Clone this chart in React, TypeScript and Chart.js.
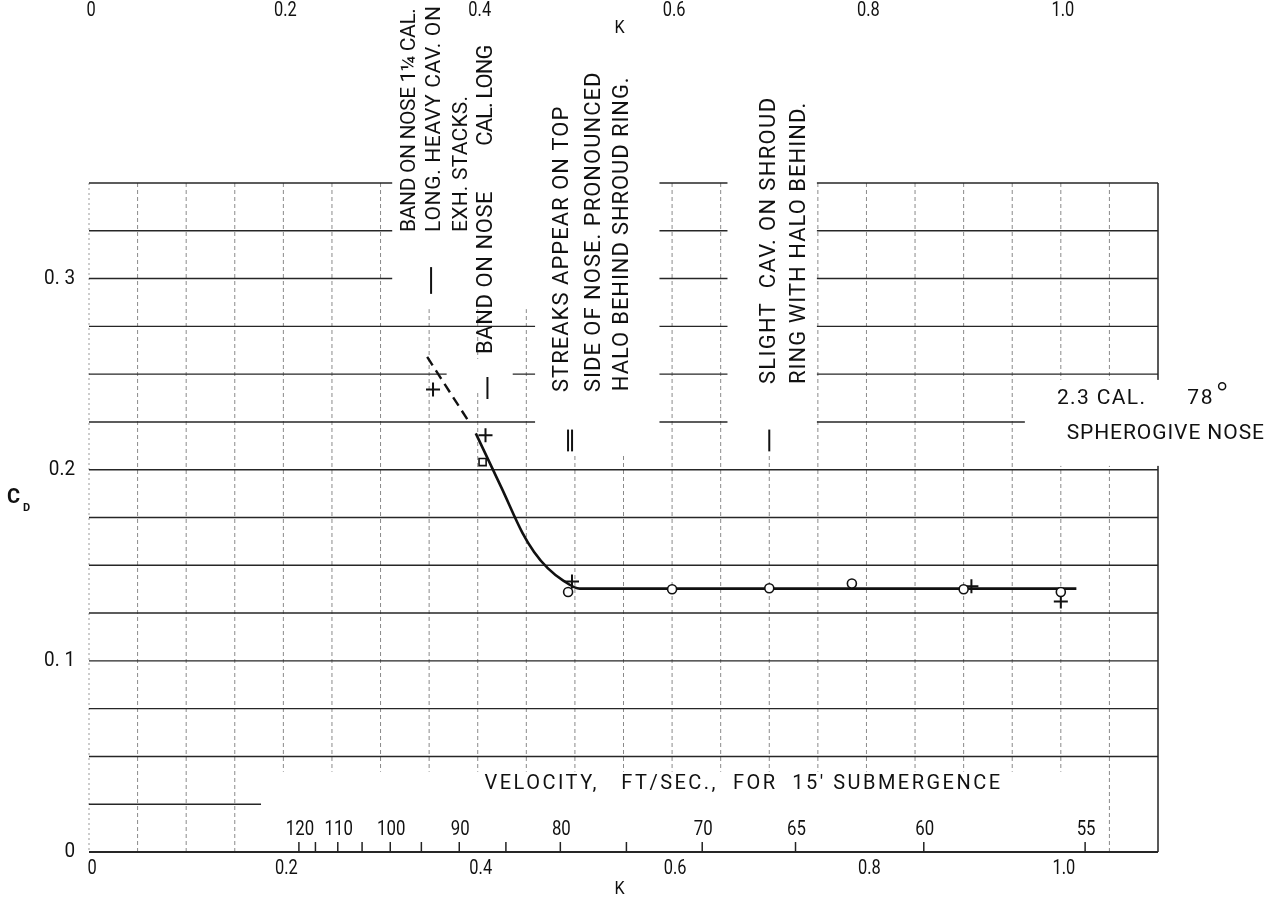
import React, { useEffect, useRef } from 'react';
import { Chart, registerables } from 'chart.js';

Chart.register(...registerables);

// ---------- axis ranges and ticks ----------
const kRange = [0, 1.1];
const cdRange = [0, 0.35];
const kTickValues = [0, 0.2, 0.4, 0.6, 0.8, 1.0];
const kTickLabels = ['0', '0.2', '0.4', '0.6', '0.8', '1.0'];
const cdTickValues = [0, 0.1, 0.2, 0.3];
const cdTickLabels = ['0', '0. 1', '0.2', '0. 3'];

// secondary velocity scale (ft/sec for 15' submergence) placed at K positions
const velocityValues = [120, 115, 110, 105, 100, 95, 90, 85, 80, 75, 70, 65, 60, 55];
const velocityK = [0.216, 0.233, 0.256, 0.281, 0.31, 0.342, 0.381, 0.429, 0.485, 0.553, 0.631, 0.727, 0.859, 1.025];
const velocityLabels = ['120', '', '110', '', '100', '', '90', '', '80', '', '70', '65', '60', '55'];

// ---------- data ----------
const circleK = [0.493, 0.6, 0.7, 0.785, 0.9, 1.0];
const circleCd = [0.136, 0.1375, 0.138, 0.1405, 0.1375, 0.136];
const crossK = [0.354, 0.408, 0.497, 0.908, 1.0];
const crossCd = [0.242, 0.218, 0.1415, 0.139, 0.131];
const squareK = [0.405];
const squareCd = [0.204];

const curveK = [0.398, 0.425, 0.446, 0.458, 0.472, 0.488, 0.505, 0.6, 0.8, 1.016];
const curveCd = [0.219, 0.19, 0.167, 0.157, 0.1485, 0.142, 0.1378, 0.1378, 0.1378, 0.1378];
const dashK = [0.348, 0.391];
const dashCd = [0.259, 0.225];

// observation markers (short bars under the notes)
const markK = [0.352, 0.41, 0.495, 0.7];
const markCdLow = [0.292, 0.237, 0.2096, 0.2096];
const markCdHigh = [0.306, 0.2485, 0.221, 0.221];
const markDouble = [false, false, true, false];

// vertical notes: text, K of column, Cd at bottom and top of the text
const noteTexts = [
  'BAND ON NOSE 1¼ CAL.',
  'LONG. HEAVY CAV. ON',
  'EXH. STACKS.',
  'BAND ON NOSE',
  'CAL. LONG',
  'STREAKS APPEAR ON TOP',
  'SIDE OF NOSE. PRONOUNCED',
  'HALO BEHIND SHROUD RING.',
  'SLIGHT  CAV. ON SHROUD',
  'RING WITH HALO BEHIND.',
];
const noteK = [0.33, 0.356, 0.384, 0.4095, 0.4095, 0.4877, 0.5206, 0.5494, 0.7006, 0.7315];
const noteCdBottom = [0.3244, 0.3244, 0.3244, 0.2605, 0.3695, 0.2406, 0.2406, 0.2411, 0.2448, 0.2448];
const noteCdTop = [0.4413, 0.4429, 0.3957, 0.3459, 0.4219, 0.3905, 0.4083, 0.4057, 0.3952, 0.3925];
const noteSize = [21, 21, 21, 22, 22, 22, 22, 22, 22, 22];

// regions of the sheet left without grid (K0, K1, Cd0, Cd1)
const blankK0 = [0.312, 0.368, 0.459, 0.657, 0.963];
const blankK1 = [0.464, 0.436, 0.587, 0.749, 1.3];
const blankCd0 = [0.284, 0.241, 0.208, 0.208, 0.202];
const blankCd1 = [0.6, 0.258, 0.6, 0.6, 0.247];

const FONT = 'Roboto, "DejaVu Sans", sans-serif';

function fitText(ctx: CanvasRenderingContext2D, text: string, x0: number, x1: number, y: number, size: number) {
  ctx.save();
  ctx.font = `${size}px ${FONT}`;
  ctx.textAlign = 'left';
  ctx.textBaseline = 'middle';
  const target = x1 - x0;
  const anyCtx = ctx as any;
  const n = Array.from(text).length;
  const w = ctx.measureText(text).width;
  if ('letterSpacing' in anyCtx && n > 1) {
    anyCtx.letterSpacing = `${(target - w) / n}px`;
  }
  const w2 = ctx.measureText(text).width;
  ctx.translate(x0, y);
  if (Math.abs(w2 - target) > 2 && w2 > 0) ctx.scale(target / w2, 1);
  ctx.fillText(text, 0, 0);
  ctx.restore();
}

function numText(ctx: CanvasRenderingContext2D, text: string, x: number, y: number, size: number, align: CanvasTextAlign, squeeze: number) {
  ctx.save();
  ctx.font = `${size}px ${FONT}`;
  ctx.textAlign = align;
  ctx.textBaseline = 'middle';
  ctx.translate(x, y);
  ctx.scale(squeeze, 1);
  ctx.fillText(text, 0, 0);
  ctx.restore();
}

const paperPlugin = {
  id: 'paper',
  beforeDraw(chart: any) {
    const { ctx, width, height } = chart;
    ctx.save();
    ctx.fillStyle = '#ffffff';
    ctx.fillRect(0, 0, width, height);
    ctx.restore();
  },
  beforeDatasetsDraw(chart: any) {
    const { ctx } = chart;
    const xs = chart.scales.x;
    const ys = chart.scales.y;
    const px = (k: number) => xs.getPixelForValue(k);
    const py = (c: number) => ys.getPixelForValue(c);
    ctx.save();
    // vertical grid lines every 0.05 K
    const nV = Math.round((kRange[1] - kRange[0]) / 0.05);
    for (let i = 0; i <= nV; i++) {
      const k = i * 0.05;
      const deep = i <= 3 || i >= nV - 1;
      const bottom = deep ? 0 : 0.042;
      ctx.beginPath();
      if (i === nV) {
        ctx.setLineDash([]);
        ctx.strokeStyle = '#222';
        ctx.lineWidth = 1.5;
      } else if (i === 0) {
        ctx.setLineDash([2, 3]);
        ctx.strokeStyle = '#999';
        ctx.lineWidth = 1;
      } else {
        ctx.setLineDash([4, 3]);
        ctx.strokeStyle = '#8a8a8a';
        ctx.lineWidth = 1;
      }
      ctx.moveTo(px(k), py(cdRange[1]));
      ctx.lineTo(px(k), py(bottom));
      ctx.stroke();
    }
    // horizontal grid lines every 0.025 Cd
    const nH = Math.round((cdRange[1] - cdRange[0]) / 0.025);
    ctx.setLineDash([]);
    for (let j = 0; j <= nH; j++) {
      const c = j * 0.025;
      const k1 = j === 1 ? 0.177 : kRange[1];
      ctx.beginPath();
      ctx.strokeStyle = '#262626';
      ctx.lineWidth = j === 0 ? 1.8 : 1.4;
      ctx.moveTo(px(0), py(c));
      ctx.lineTo(px(k1), py(c));
      ctx.stroke();
    }
    // blank regions kept for the hand-lettered notes
    ctx.fillStyle = '#ffffff';
    for (let b = 0; b < blankK0.length; b++) {
      const x0 = px(blankK0[b]);
      const x1 = px(blankK1[b]);
      const y0 = py(blankCd1[b]);
      const y1 = py(blankCd0[b]);
      ctx.fillRect(x0, y0, x1 - x0, y1 - y0);
    }
    // velocity ticks on the base line
    ctx.strokeStyle = '#222';
    ctx.lineWidth = 1.5;
    for (let v = 0; v < velocityK.length; v++) {
      ctx.beginPath();
      ctx.moveTo(px(velocityK[v]), py(0));
      ctx.lineTo(px(velocityK[v]), py(0) - 10);
      ctx.stroke();
    }
    // observation markers
    ctx.lineWidth = 2;
    ctx.strokeStyle = '#111';
    for (let m = 0; m < markK.length; m++) {
      const offs = markDouble[m] ? [-2, 2] : [0];
      for (const o of offs) {
        ctx.beginPath();
        ctx.moveTo(px(markK[m]) + o, py(markCdLow[m]));
        ctx.lineTo(px(markK[m]) + o, py(markCdHigh[m]));
        ctx.stroke();
      }
    }
    ctx.restore();
  },
  afterDraw(chart: any) {
    const { ctx } = chart;
    const xs = chart.scales.x;
    const ys = chart.scales.y;
    const px = (k: number) => xs.getPixelForValue(k);
    const py = (c: number) => ys.getPixelForValue(c);
    ctx.save();
    ctx.fillStyle = '#111';
    // bottom K axis
    for (let i = 0; i < kTickValues.length; i++) {
      numText(ctx, kTickLabels[i], px(kTickValues[i]) + 3, py(0) + 17, 20, 'center', 0.82);
      // duplicate scale at the top of the sheet
      numText(ctx, kTickLabels[i], px(kTickValues[i]) + 2, 11, 20, 'center', 0.82);
    }
    numText(ctx, 'K', px(0.546), py(0) + 37, 18, 'center', 0.9);
    numText(ctx, 'K', px(0.546), 28, 18, 'center', 0.9);
    // Cd axis labels
    for (let i = 0; i < cdTickValues.length; i++) {
      numText(ctx, cdTickLabels[i], px(0) - 14, py(cdTickValues[i]), 21, 'right', 0.9);
    }
    // C_D title
    ctx.font = `bold 20px ${FONT}`;
    ctx.textAlign = 'left';
    ctx.textBaseline = 'middle';
    ctx.fillText('C', 7, py(0.185));
    ctx.font = `bold 11px ${FONT}`;
    ctx.fillText('D', 23, py(0.185) + 10);
    // velocity labels
    for (let v = 0; v < velocityK.length; v++) {
      if (velocityLabels[v]) numText(ctx, velocityLabels[v], px(velocityK[v]) + 1, py(0.0115), 21, 'center', 0.8);
    }
    fitText(ctx, "VELOCITY,   FT/SEC.,  FOR  15' SUBMERGENCE", px(0.407), px(0.94), py(0.0357), 20);
    // vertical notes
    for (let n = 0; n < noteTexts.length; n++) {
      const x = px(noteK[n]);
      const yb = py(noteCdBottom[n]);
      const yt = py(noteCdTop[n]);
      ctx.save();
      ctx.translate(x, yb);
      ctx.rotate(-Math.PI / 2);
      fitText(ctx, noteTexts[n], 0, yb - yt, 0, noteSize[n]);
      ctx.restore();
    }
    // model description
    fitText(ctx, '2.3 CAL.', px(0.996), px(1.088), py(0.2369), 21);
    fitText(ctx, '78', px(1.13), px(1.158), py(0.2369), 21);
    ctx.lineWidth = 1.5;
    ctx.strokeStyle = '#111';
    ctx.beginPath();
    ctx.arc(px(1.166), py(0.2369) - 13, 3.5, 0, Math.PI * 2);
    ctx.stroke();
    fitText(ctx, 'SPHEROGIVE NOSE', px(1.006), px(1.21), py(0.2186), 21);
    ctx.restore();
  },
};

export default function App() {
  const ref = useRef<HTMLCanvasElement>(null);
  useEffect(() => {
    const pts = (ks: number[], cs: number[]) => ks.map((k, i) => ({ x: k, y: cs[i] }));
    const chart = new Chart(ref.current as HTMLCanvasElement, {
      type: 'scatter',
      data: {
        datasets: [
          {
            label: 'circles',
            data: pts(circleK, circleCd),
            pointStyle: 'circle',
            pointRadius: 4.5,
            borderColor: '#111',
            backgroundColor: '#ffffff',
            borderWidth: 1.6,
            order: 0,
          },
          {
            label: 'crosses',
            data: pts(crossK, crossCd),
            pointStyle: 'cross',
            pointRadius: 7,
            borderColor: '#111',
            backgroundColor: '#111',
            borderWidth: 2,
            order: 0,
          },
          {
            label: 'square',
            data: pts(squareK, squareCd),
            pointStyle: 'rect',
            pointRadius: 5,
            borderColor: '#111',
            backgroundColor: '#ffffff',
            borderWidth: 1.6,
            order: 0,
          },
          {
            type: 'line',
            label: 'curve',
            data: pts(curveK, curveCd),
            showLine: true,
            borderColor: '#111',
            borderWidth: 2.6,
            pointRadius: 0,
            cubicInterpolationMode: 'monotone',
            fill: false,
            order: 1,
          } as any,
          {
            type: 'line',
            label: 'dashed',
            data: pts(dashK, dashCd),
            showLine: true,
            borderColor: '#111',
            borderWidth: 2.4,
            borderDash: [10, 6],
            pointRadius: 0,
            fill: false,
            order: 1,
          } as any,
        ],
      },
      options: {
        responsive: false,
        animation: false,
        devicePixelRatio: 1,
        layout: { padding: { left: 89, right: 123, top: 183, bottom: 49 } },
        scales: {
          x: { type: 'linear', min: kRange[0], max: kRange[1], display: false },
          y: { type: 'linear', min: cdRange[0], max: cdRange[1], display: false },
        },
        plugins: { legend: { display: false }, tooltip: { enabled: false } },
        events: [],
      },
      plugins: [paperPlugin],
    });
    return () => chart.destroy();
  }, []);
  return (
    <div style={{ position: 'absolute', left: 0, top: 0, width: 1281, height: 901, background: '#fff' }}>
      <canvas ref={ref} width={1281} height={901} style={{ display: 'block' }} />
    </div>
  );
}
